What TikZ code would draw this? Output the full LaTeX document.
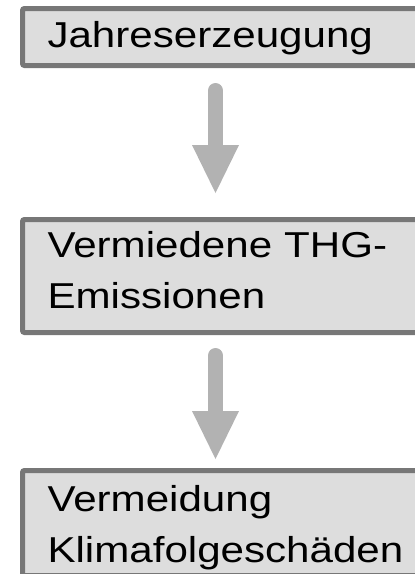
\documentclass[tikz,border=0pt]{standalone}
\usepackage{fontspec}
\setmainfont[FakeStretch=1.17]{Liberation Sans}
\usetikzlibrary{arrows.meta}
\definecolor{boxline}{HTML}{777777}
\definecolor{boxfill}{HTML}{DDDDDD}
\definecolor{flowgray}{HTML}{B2B2B2}

\begin{document}
\begin{tikzpicture}[x=1pt,y=-1pt,
    stage/.style={draw=boxline,fill=boxfill,line width=5pt,rounded corners=2pt,
      anchor=north west,inner xsep=25pt,inner ysep=0pt,text width=380pt,
      align=left,font=\fontsize{36}{51}\selectfont},
    flow/.style={draw=flowgray,line width=15pt,line cap=round,
      -{Triangle[width=47pt,length=48pt,line width=0pt]}}]
    \useasboundingbox (0,0) rectangle (415,574);
    \clip (0,0) rectangle (415,574);
    \node[stage,minimum height=57pt,text depth=5pt] (jahr) at (20,6) {Jahreserzeugung};
    \node[stage,minimum height=113pt,text depth=64pt] (verm) at (20,217) {Vermiedene THG-\\Emissionen};
    \node[stage,minimum height=105pt,text depth=50pt] (klima) at (20,468) {Vermeidung\\Klimafolgesch\"aden};
    \coordinate (col) at (215.5,0);
    \draw[flow,shorten <=22.5pt,shorten >=24pt] (jahr.south -| col) -- (verm.north -| col);
    \draw[flow,shorten <=20.5pt,shorten >=9pt] (verm.south -| col) -- (klima.north -| col);
\end{tikzpicture}
\end{document}
